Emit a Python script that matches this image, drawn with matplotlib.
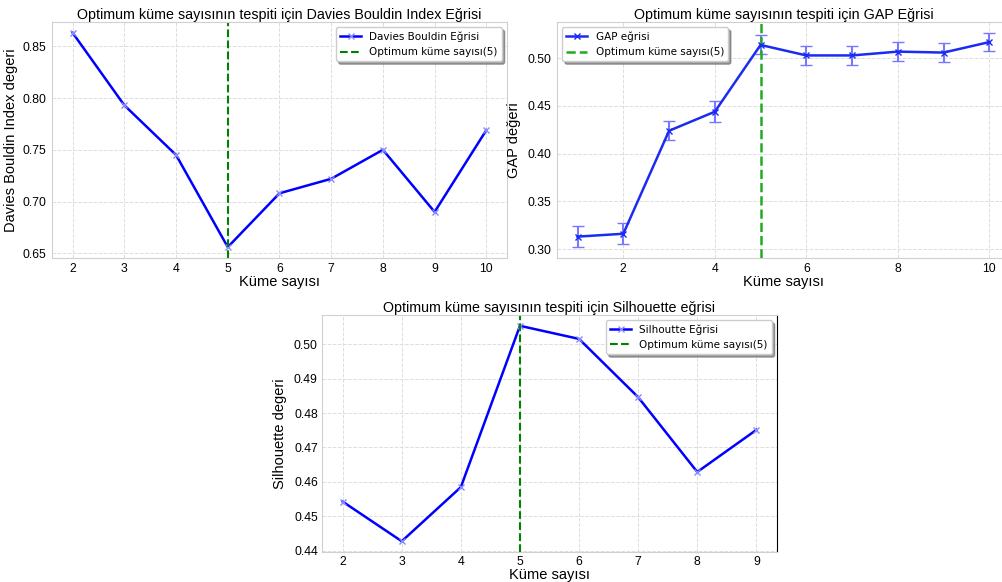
import numpy as np
import matplotlib
matplotlib.use("Agg")
import matplotlib.pyplot as plt

# Davies Bouldin
db_k = [2, 3, 4, 5, 6, 7, 8, 9, 10]
db_score = [0.863, 0.793, 0.745, 0.656, 0.708, 0.722, 0.750, 0.690, 0.769]

# GAP
gap_k = [1, 2, 3, 4, 5, 6, 7, 8, 9, 10]
gap_score = [0.313, 0.316, 0.424, 0.444, 0.514, 0.503, 0.503, 0.507, 0.506, 0.517]
gap_err = [0.011, 0.011, 0.010, 0.011, 0.010, 0.010, 0.010, 0.010, 0.010, 0.0097]

# Silhouette
sil_k = [2, 3, 4, 5, 6, 7, 8, 9]
sil_score = [0.4543, 0.4428, 0.4585, 0.5053, 0.5015, 0.4846, 0.4629, 0.4751]

opt_k = 5

title_font = dict(family="Liberation Sans", size=10.3)
label_font = dict(family="Liberation Sans", size=10.5)


def style_axes(ax, pad=4):
    ax.set_facecolor("white")
    ax.grid(True, linestyle="--", color="#dddddd", linewidth=0.7)
    for s in ax.spines.values():
        s.set_color("#d0d0d0")
    ax.tick_params(length=0, labelsize=8.8, pad=pad)
    for t in ax.get_xticklabels() + ax.get_yticklabels():
        t.set_family("Liberation Sans")


fig = plt.figure(figsize=(10.03, 5.82), dpi=100)

ax1 = fig.add_axes([0.0518, 0.557, 0.4537, 0.405])
ax1.plot(db_k, db_score, "bx-", lw=1.8, ms=4, mec="#8888ff", label="Davies Bouldin Eğrisi")
ax1.axvline(opt_k, color="green", ls="--", lw=1.5, label="Optimum küme sayısı(5)")
ax1.set_title("Optimum küme sayısının tespiti için Davies Bouldin Index Eğrisi", pad=2, **title_font)
ax1.set_xlabel("Küme sayısı", labelpad=0, **label_font)
ax1.set_ylabel("Davies Bouldin Index degeri", labelpad=3, **label_font)
ax1.set_yticks([0.65, 0.70, 0.75, 0.80, 0.85])
ax1.set_xticks(db_k)
style_axes(ax1)
ax1.legend(loc="upper right", shadow=True, fontsize=7.5)

ax2 = fig.add_axes([0.5553, 0.557, 0.4516, 0.405])
gap_line = ax2.errorbar(gap_k, gap_score, yerr=gap_err, fmt="x-", color="#1a2cf0", lw=1.8, ms=4,
                        ecolor="#7777ff", elinewidth=1.5, capsize=4, label="GAP eğrisi")
opt_line = ax2.axvline(opt_k, color="#22aa22", ls="--", lw=1.8, label="Optimum küme sayısı(5)")
ax2.set_title("Optimum küme sayısının tespiti için GAP Eğrisi", pad=2, **title_font)
ax2.set_xlabel("Küme sayısı", labelpad=0, **label_font)
ax2.set_ylabel("GAP değeri", labelpad=5, **label_font)
ax2.set_yticks([0.30, 0.35, 0.40, 0.45, 0.50])
ax2.set_xticks([2, 4, 6, 8, 10])
style_axes(ax2)
ax2.legend([gap_line.lines[0], opt_line], ["GAP eğrisi", "Optimum küme sayısı(5)"],
           loc="upper left", shadow=True, fontsize=7.5)

ax3 = fig.add_axes([0.321, 0.0515, 0.4537, 0.4072])
ax3.plot(sil_k, sil_score, "bx-", lw=1.8, ms=4, mec="#8888ff", label="Silhoutte Eğrisi")
ax3.axvline(opt_k, color="green", ls="--", lw=1.5, label="Optimum küme sayısı(5)")
ax3.set_title("Optimum küme sayısının tespiti için Silhouette eğrisi", pad=2, **title_font)
ax3.set_xlabel("Küme sayısı", labelpad=0, **label_font)
ax3.set_ylabel("Silhouette degeri", labelpad=5, **label_font)
ax3.set_yticks([0.44, 0.45, 0.46, 0.47, 0.48, 0.49, 0.50])
ax3.set_xticks(sil_k)
style_axes(ax3, pad=3)
ax3.spines["right"].set_color("black")
ax3.legend(loc="upper right", shadow=True, fontsize=7.5)

fig.savefig("out.png", dpi=100, facecolor="white")
